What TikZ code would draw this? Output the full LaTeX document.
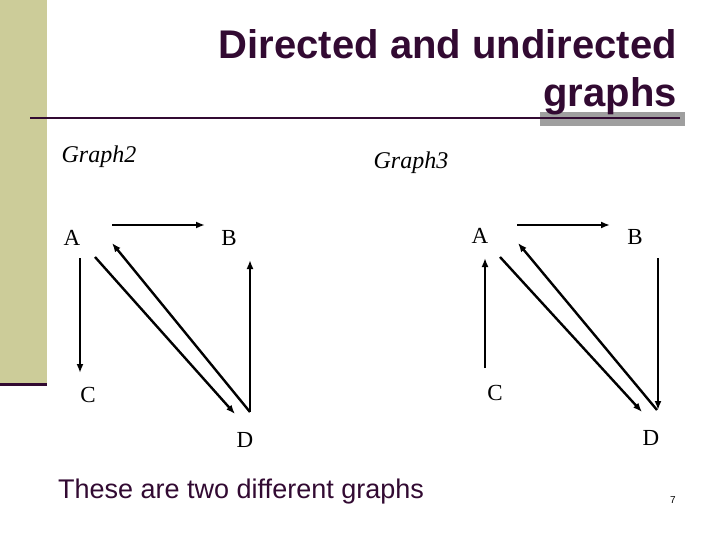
\documentclass[tikz,border=0pt]{standalone}
\usepackage{fontspec}
\setmainfont{Liberation Serif}
\newfontfamily\arial{Liberation Sans}
\usetikzlibrary{arrows.meta}
\definecolor{ttl}{RGB}{50,10,50}
\definecolor{olive}{RGB}{204,204,153}
\begin{document}
\begin{tikzpicture}[x=1pt,y=-1pt,
  lab/.style={font=\fontsize{23}{26}\selectfont, inner sep=0pt},
  arr/.style={line width=2.4pt,-{Latex[length=9pt,width=7pt]}}]
\useasboundingbox (0,0) rectangle (720,540);
\fill[white] (0,0) rectangle (720,540);
\fill[olive] (0,0) rectangle (47,384);
\draw[ttl,line width=3pt] (0,384) -- (47,384);
\fill[gray!75] (540,112) rectangle (685,126);
\draw[ttl,line width=2pt] (30,118) -- (680,118);
\node[anchor=east,align=right,text=ttl,font=\arial\bfseries\fontsize{40}{48}\selectfont,inner sep=0pt] (title) at (677,72) {Directed and undirected\\graphs};
\node[font=\itshape\fontsize{24}{27}\selectfont] (g2) at (99,157) {Graph2};
\node[font=\itshape\fontsize{24}{27}\selectfont] (g3) at (411,163) {Graph3};
% Graph2
\node[lab] (a2) at (72,238) {A};
\node[lab] (b2) at (229,238) {B};
\node[lab] (c2) at (88,395) {C};
\node[lab] (d2) at (245,440) {D};
\coordinate (a2r) at (112,225); \coordinate (b2l) at (205,225);
\coordinate (a2b) at (80,258); \coordinate (c2t) at (80,373);
\coordinate (a2d) at (95,257); \coordinate (d2a) at (235,414);
\coordinate (d2t) at (250,412); \coordinate (a2e) at (112,243);
\coordinate (b2b) at (250,260);
\draw[arr] (a2r) -- (b2l);
\draw[arr] (a2b) -- (c2t);
\draw[arr] (a2d) -- (d2a);
\draw[arr] (d2t) -- (a2e);
\draw[arr] (d2t) -- (b2b);
% Graph3
\node[lab] (a3) at (480,236) {A};
\node[lab] (b3) at (635,237) {B};
\node[lab] (c3) at (495,393) {C};
\node[lab] (d3) at (651,438) {D};
\coordinate (a3r) at (517,225); \coordinate (b3l) at (610,225);
\coordinate (c3t) at (485,368); \coordinate (a3b) at (485,258);
\coordinate (a3d) at (500,257); \coordinate (d3a) at (642,412);
\coordinate (d3t) at (657,410); \coordinate (a3e) at (518,243);
\coordinate (b3b) at (658,258); \coordinate (d3b) at (658,410);
\draw[arr] (a3r) -- (b3l);
\draw[arr] (c3t) -- (a3b);
\draw[arr] (a3d) -- (d3a);
\draw[arr] (d3t) -- (a3e);
\draw[arr] (b3b) -- (d3b);
\node[text=ttl,font=\arial\fontsize{27}{30}\selectfont,inner sep=0pt] (foot) at (241,492) {These are two different graphs};
\node[font=\arial\fontsize{10}{12}\selectfont] (pg) at (673,500) {7};
\end{tikzpicture}
\end{document}
